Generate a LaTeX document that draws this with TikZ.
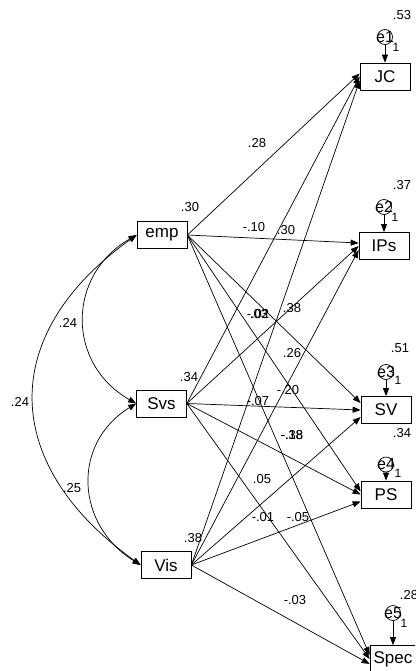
\documentclass[tikz,border=0pt]{standalone}
\usepackage{fontspec}
\setmainfont{Liberation Sans}
\usetikzlibrary{arrows.meta,positioning}

\tikzset{
  var/.style={draw, line width=0.7pt, minimum width=50pt, minimum height=27pt, inner sep=0pt, font=\fontsize{17}{19}\selectfont},
  errc/.style={draw, line width=0.7pt, circle, minimum size=15pt, inner sep=0pt, font=\fontsize{16}{18}\selectfont},
  est/.style={inner sep=0pt, font=\fontsize{13}{15}\selectfont},
  unitone/.style={inner sep=0pt, font=\fontsize{12}{14}\selectfont},
  reg/.style={line width=0.7pt, -{Triangle[length=8pt,width=6pt]}},
  cov/.style={line width=0.7pt, {Triangle[length=8pt,width=6pt]}-{Triangle[length=8pt,width=6pt]}}
}

\begin{document}
\begin{tikzpicture}[x=1pt, y=-1pt]
  \useasboundingbox (0,0) rectangle (415,671);
  \clip (0,0) rectangle (415,671);

  % exogenous variables
  \node[var] (emp) at (162,235) {emp};
  \node[var] (Svs) at (161.5,403.5) {Svs};
  \node[var] (Vis) at (166,565) {Vis};

  % endogenous variables
  \node[var] (JC) at (385,76.5) {JC};
  \node[var] (IPs) at (384,246) {IPs};
  \node[var] (SV) at (386,410) {SV};
  \node[var] (PS) at (386,494.5) {PS};
  \node[var, minimum width=46pt] (Spec) at (393,659) {Spec};

  % error terms
  \node[errc] (e1) at (385,37) {\makebox[0pt]{e1}};
  \node[errc] (e2) at (384,207) {\makebox[0pt]{e2}};
  \node[errc] (e3) at (386,372) {\makebox[0pt]{e3}};
  \node[errc] (e4) at (386,464.5) {\makebox[0pt]{e4}};
  \node[errc] (e5) at (393,613) {\makebox[0pt]{e5}};
  \draw[reg] (e1) -- (e1 |- JC.north);
  \draw[reg] (e2) -- (e2 |- IPs.north);
  \draw[reg] (e3) -- (e3 |- SV.north);
  \draw[reg] (e4) -- (e4 |- PS.north);
  \draw[reg] (e5) -- (e5 |- Spec.north);
  \node[unitone] (u1) at (396,47) {1};
  \node[unitone] (u2) at (395,217) {1};
  \node[unitone] (u3) at (398,380) {1};
  \node[unitone] (u4) at (398,473) {1};
  \node[unitone] (u5) at (404,623) {1};

  % squared multiple correlations
  \node[est] (r2JC) at (402,15) {.53};
  \node[est] (r2IPs) at (402,185) {.37};
  \node[est] (r2SV) at (400,348) {.51};
  \node[est] (r2PS) at (402,433) {.34};
  \node[est] (r2Spec) at (409,595) {.28};
  \node[est] (r2emp) at (190,207) {.30};
  \node[est] (r2Svs) at (189,377) {.34};
  \node[est] (r2Vis) at (193,538) {.38};

  % covariances
  \draw[cov] (emp.west) .. controls +(-70,40) and +(-70,-40) .. (Svs.west);
  \draw[cov] (Svs.west) .. controls +(-65,40) and +(-65,-40) .. (Vis.west);
  \draw[cov] (emp.west) .. controls +(-140,100) and +(-140,-100) .. (Vis.west);
  \node[est] (cES) at (68,323) {.24};
  \node[est] (cEV) at (20,402) {.24};
  \node[est] (cSV) at (72,488) {.25};

  % regression paths
  \draw[reg] (emp.east) -- ([yshift=3pt]JC.west);
  \draw[reg] (emp.east) -- ([yshift=3pt]IPs.west);
  \draw[reg] (emp.east) -- ([yshift=7pt]SV.west);
  \draw[reg] (emp.east) -- ([yshift=3pt]PS.west);
  \draw[reg] (emp.east) -- ([yshift=4pt]Spec.west);
  \draw[reg] (Svs.east) -- (JC.west);
  \draw[reg] (Svs.east) -- (IPs.west);
  \draw[reg] (Svs.east) -- (SV.west);
  \draw[reg] (Svs.east) -- (PS.west);
  \draw[reg] (Svs.east) -- (Spec.west);
  \draw[reg] (Vis.east) -- ([yshift=-4pt]JC.west);
  \draw[reg] (Vis.east) -- ([yshift=-4pt]IPs.west);
  \draw[reg] (Vis.east) -- ([yshift=-7pt]SV.west);
  \draw[reg] (Vis.east) -- ([yshift=-7pt]PS.west);
  \draw[reg] (Vis.east) -- ([yshift=-5pt]Spec.west);

  % path estimates
  \node[est] (w1) at (257,143) {.28};
  \node[est] (w2) at (254,227) {-.10};
  \node[est] (w3) at (286,230) {.30};
  \node[est] (w4) at (258,314) {-.02};
  \node[est] (w5) at (259,314) {.03};
  \node[est] (w6) at (292,308) {.38};
  \node[est] (w7) at (292,353) {.26};
  \node[est] (w8) at (288,390) {-.20};
  \node[est] (w9) at (258,401) {-.07};
  \node[est] (w10) at (292,435) {-.38};
  \node[est] (w11) at (292,435) {-.18};
  \node[est] (w12) at (262,479) {.05};
  \node[est] (w13) at (263,517) {-.01};
  \node[est] (w14) at (298,517) {-.05};
  \node[est] (w15) at (295,600) {-.03};
\end{tikzpicture}
\end{document}
